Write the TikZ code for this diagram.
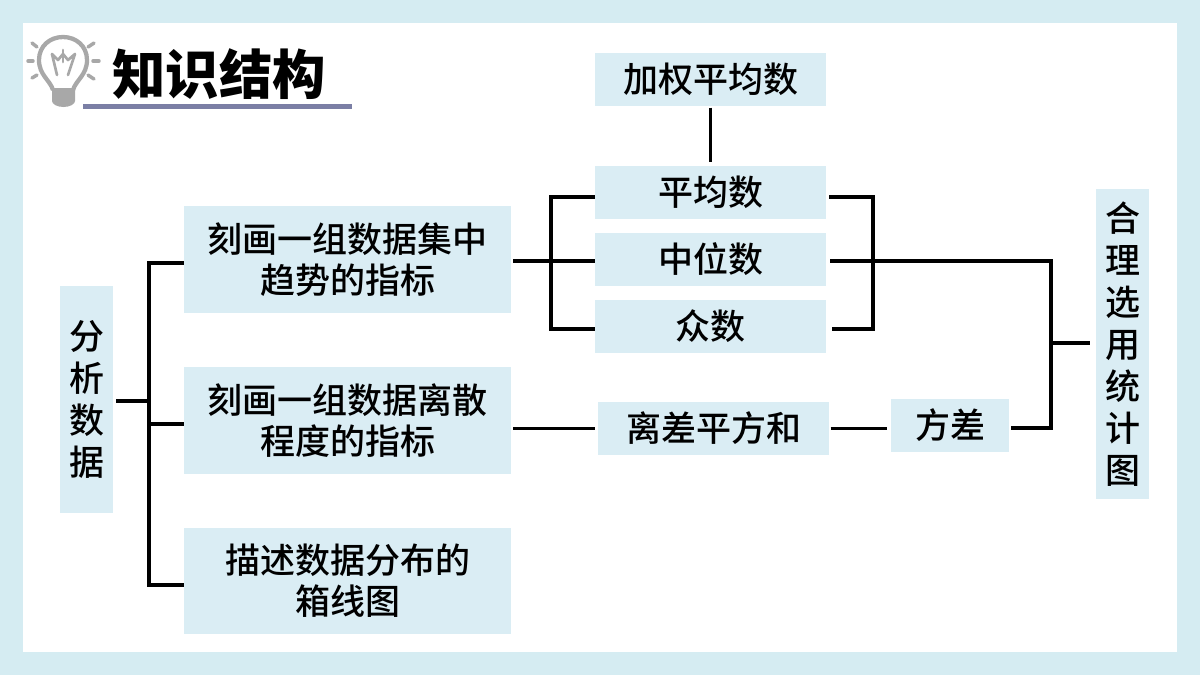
\documentclass[tikz,border=0pt]{standalone}
\usepackage{fontspec}
\setmainfont{Noto Sans CJK SC Medium}
\newfontfamily\titlefont{Noto Sans CJK SC Black}
\definecolor{pagebg}{HTML}{D5ECF2}
\definecolor{boxbg}{HTML}{DAEDF4}
\definecolor{rulecol}{HTML}{7B7FA5}
\definecolor{bulbcol}{HTML}{A8A8A8}
\tikzset{
  px/.style={x=0.75pt,y=-0.75pt},
  infobox/.style={fill=boxbg,inner sep=0pt,align=center,font=\fontsize{26.25pt}{31pt}\selectfont,text=black},
  vertbox/.style={infobox,font=\fontsize{26.25pt}{31.5pt}\selectfont},
  link/.style={draw=black,line width=2.4pt,line join=miter},
  bulbline/.style={draw=bulbcol,line width=2.6pt,line cap=round,line join=round},
}
\begin{document}
\begin{tikzpicture}[px]
\useasboundingbox (0,0) rectangle (1200,675);
\fill[pagebg] (0,0) rectangle (1200,675);
\fill[white] (23,23) rectangle (1177,652);
% bulb
\draw[draw=bulbcol,line width=3.2pt] (53,90) .. controls (50,80) and (39,75) .. (39,60) .. controls (39,46) and (50,37) .. (63,37) .. controls (76,37) and (87,46) .. (87,60) .. controls (87,75) and (76,80) .. (73,90);
\fill[bulbcol] (52,88) -- (75,88) -- (75,101) .. controls (75,104) and (70,107) .. (63.5,107) .. controls (57,107) and (52,104) .. (52,101) -- cycle;
\draw[bulbline,line width=2pt] (57,75) -- (52,54) -- (58,60) -- (63,54) -- (68,60) -- (75,54) -- (68,75);
\draw[bulbline,line width=2pt] (63,50) -- (63,62);
\draw[bulbline] (32,43) -- (37,47);
\draw[bulbline] (28,61) -- (33,61);
\draw[bulbline] (32,78) -- (37,75);
\draw[bulbline] (94,43) -- (88,47);
\draw[bulbline] (93,61) -- (99,61);
\draw[bulbline] (94,79) -- (88,75);
% title
\fill[rulecol] (83,104) rectangle (352,108.5);
\node[font=\fontsize{40pt}{40pt}\titlefont\selectfont,text=black,inner sep=0pt] (title) at (219,74) {知识结构};
% boxes
\node[vertbox,minimum width=40pt,minimum height=170.25pt] (root) at (86.5,399.5) {分\\析\\数\\据};
\node[infobox,minimum width=245.25pt,minimum height=80.25pt] (conc) at (347.5,259.5) {刻画一组数据集中\\趋势的指标};
\node[infobox,minimum width=245.25pt,minimum height=80.25pt] (disp) at (347.5,420.5) {刻画一组数据离散\\程度的指标};
\node[infobox,minimum width=245.25pt,minimum height=79.5pt] (boxp) at (347.5,581) {描述数据分布的\\箱线图};
\node[infobox,minimum width=173.25pt,minimum height=39.75pt] (wavg) at (710.5,79.5) {加权平均数};
\node[infobox,minimum width=173.25pt,minimum height=39.75pt] (mean) at (710.5,192.5) {平均数};
\node[infobox,minimum width=173.25pt,minimum height=39.75pt] (med) at (710.5,259.5) {中位数};
\node[infobox,minimum width=173.25pt,minimum height=39.75pt] (mode) at (710.5,326.5) {众数};
\node[infobox,minimum width=173.25pt,minimum height=39.75pt] (ssd) at (713.5,428.5) {离差平方和};
\node[infobox,minimum width=88.5pt,minimum height=39.75pt] (var) at (950,425.5) {方差};
\node[vertbox,minimum width=40pt,minimum height=232.5pt] (chart) at (1122.5,344) {合\\理\\选\\用\\统\\计\\图};
% junctions and levels
\coordinate (jroot) at (149,401);
\coordinate (lconc) at (149,263);
\coordinate (ldisp) at (149,424);
\coordinate (lboxp) at (149,585);
\coordinate (jconc) at (551,261);
\coordinate (lmean) at (551,197);
\coordinate (lmode) at (551,329);
\coordinate (jstat) at (873,261);
\coordinate (rmean) at (873,197);
\coordinate (rmode) at (873,329);
\coordinate (jall) at (1051,343);
\coordinate (lvar) at (1051,428);
% connectors
\draw[link] ([xshift=2pt]root.east |- jroot) -- (jroot);
\draw[link] (conc.west |- lconc) -- (lconc) -- (lboxp) -- (boxp.west |- lboxp);
\draw[link] (ldisp) -- (disp.west |- ldisp);
\draw[link] ([xshift=1.5pt]conc.east |- jconc) -- (med.west |- jconc);
\draw[link] (mean.west |- lmean) -- (lmean) -- (lmode) -- (mode.west |- lmode);
\draw[link] ([yshift=-1pt]wavg.south) -- ([yshift=3pt]mean.north);
\draw[link] ([xshift=2.25pt]mean.east |- rmean) -- (rmean) -- (rmode) -- ([xshift=4.5pt]mode.east |- rmode);
\draw[link] ([xshift=3pt]med.east |- jstat) -- (1051,261) -- (lvar) -- ([xshift=1pt]var.east |- lvar);
\draw[link] (jall) -- ([xshift=-4.5pt]chart.west |- jall);
\draw[link] ([xshift=1.5pt]disp.east |- ssd.west) -- ([xshift=-2.25pt]ssd.west);
\draw[link] ([xshift=1pt]ssd.east) -- ([xshift=-3pt]var.west |- ssd.east);
\end{tikzpicture}
\end{document}
